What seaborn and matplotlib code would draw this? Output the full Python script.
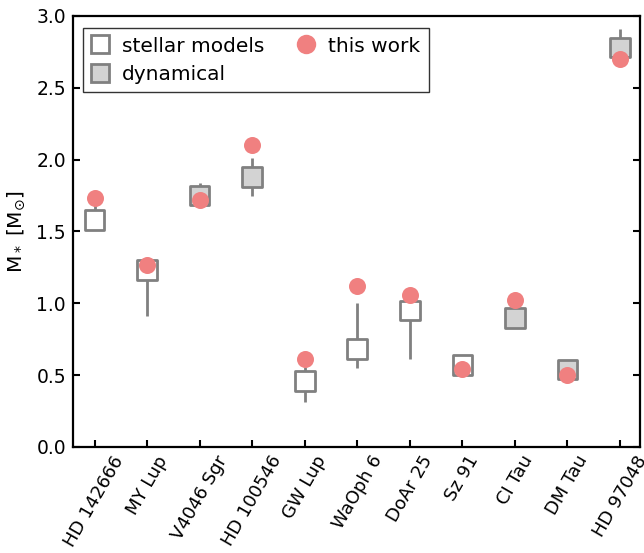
import numpy as np
import pandas as pd
import matplotlib
matplotlib.use("Agg")
import matplotlib.pyplot as plt
from matplotlib.lines import Line2D
import seaborn as sns

# Stellar masses for the disk sample
stars = ["HD 142666", "MY Lup", "V4046 Sgr", "HD 100546", "GW Lup", "WaOph 6",
         "DoAr 25", "Sz 91", "CI Tau", "DM Tau", "HD 97048"]
method = ["stellar models", "stellar models", "dynamical", "dynamical",
          "stellar models", "stellar models", "stellar models", "stellar models",
          "dynamical", "dynamical", "dynamical"]
lit_mass = [1.58, 1.23, 1.75, 1.88, 0.46, 0.68, 0.95, 0.57, 0.90, 0.54, 2.78]
lit_err_lo = [0.05, 0.32, 0.05, 0.13, 0.15, 0.13, 0.34, 0.05, 0.05, 0.05, 0.05]
lit_err_hi = [0.11, 0.05, 0.09, 0.13, 0.10, 0.32, 0.06, 0.05, 0.05, 0.05, 0.13]
this_work = [1.73, 1.27, 1.72, 2.10, 0.61, 1.12, 1.06, 0.54, 1.02, 0.50, 2.70]

sns.set_style("ticks")
plt.rcParams["font.family"] = ["DejaVu Sans"]
plt.rcParams["mathtext.fontset"] = "dejavusans"
plt.rcParams["text.color"] = "black"
plt.rcParams["axes.labelcolor"] = "black"

FS_LEG = 14.5
FS_YTICK = 13.5
FS_XTICK = 13

pos = np.arange(len(stars))
df = pd.DataFrame({"pos": pos, "star": stars, "method": method,
                   "lit": lit_mass, "ours": this_work})

fig = plt.figure(figsize=(6.44, 5.53), dpi=100)
ax = fig.add_axes([0.1134, 0.1917, 0.8804, 0.7794])

edge = "#808080"
ax.errorbar(df["pos"], df["lit"], yerr=[lit_err_lo, lit_err_hi], fmt="none",
            ecolor=edge, elinewidth=2, capsize=0, zorder=1)

sns.scatterplot(data=df, x="pos", y="lit", hue="method",
                palette={"stellar models": "white", "dynamical": "#d3d3d3"},
                hue_order=["stellar models", "dynamical"],
                marker="s", s=200, edgecolor=edge, linewidth=2,
                ax=ax, zorder=2, legend=False)
sns.scatterplot(data=df, x="pos", y="ours", color="#f08080", marker="o",
                s=150, linewidth=0, ax=ax, zorder=3, legend=False)

handles = [
    Line2D([], [], ls="none", marker="s", markersize=12.5, markerfacecolor="white",
           markeredgecolor=edge, markeredgewidth=2),
    Line2D([], [], ls="none", marker="s", markersize=12.5, markerfacecolor="#d3d3d3",
           markeredgecolor=edge, markeredgewidth=2),
    Line2D([], [], ls="none", marker="o", markersize=14, markerfacecolor="#f08080",
           markeredgewidth=0),
]
leg = ax.legend(handles, ["stellar models", "dynamical", "this work"], ncol=2,
                loc="upper left", bbox_to_anchor=(0.0176, 0.972), borderaxespad=0,
                fontsize=FS_LEG, fancybox=False, frameon=True, handlelength=0.8,
                handletextpad=0.7, columnspacing=1.7, labelspacing=0.45,
                borderpad=0.42)
leg.get_frame().set_edgecolor("black")
leg.get_frame().set_linewidth(1.0)

ax.set_xlim(-0.41, 10.38)
ax.set_ylim(0, 3.0)
ax.set_xticks(pos)
ax.set_xticklabels(stars, rotation=60, fontsize=FS_XTICK)
ax.set_yticks(np.arange(0, 3.01, 0.5))
ax.set_yticklabels([f"{v:.1f}" for v in np.arange(0, 3.01, 0.5)], fontsize=FS_YTICK)
ax.set_xlabel("")
ax.set_ylabel(r"M$_*$ [M$_{\odot}$]", fontsize=FS_LEG, labelpad=7)

for sp in ax.spines.values():
    sp.set_visible(True)
    sp.set_linewidth(1.6)
    sp.set_color("black")
ax.tick_params(axis="both", direction="in", length=5, width=1.5, color="black",
               labelcolor="black", pad=5)
ax.tick_params(axis="x", pad=4)
ax.tick_params(axis="y", right=True)

fig.savefig("out.png", dpi=100)
